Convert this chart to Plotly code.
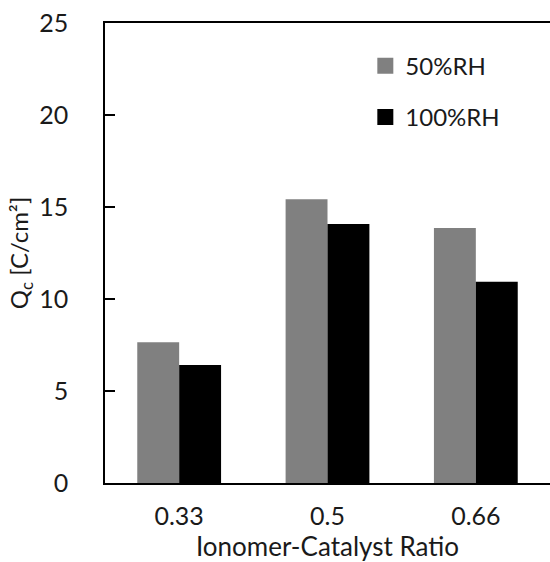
import plotly.graph_objects as go

categories = ["0.33", "0.5", "0.66"]
rh50 = [7.65, 15.42, 13.86]
rh100 = [6.41, 14.08, 10.94]
series_names = ["50%RH", "100%RH"]
colors = ["#808080", "#000000"]
y_ticks = [0, 5, 10, 15, 20, 25]

FONT = "Lato"
TXT = "#1a1a1a"

fig = go.Figure()
for vals, name, col, grp in zip([rh50, rh100], series_names, colors, ["a", "b"]):
    fig.add_trace(go.Bar(x=categories, y=vals, name=name,
                         marker=dict(color=col, line=dict(width=0)),
                         legendgroup=grp, showlegend=False))
    # legend entry with a larger square swatch
    fig.add_trace(go.Scatter(x=[None], y=[None], mode="markers", name=name,
                             marker=dict(symbol="square", size=17, color=col),
                             legendgroup=grp, showlegend=True))

fig.update_layout(
    width=550, height=562,
    margin=dict(l=105, r=0, t=23, b=79, autoexpand=False),
    paper_bgcolor="white", plot_bgcolor="white",
    font=dict(family=FONT, size=24, color=TXT),
    barmode="group", bargap=0.435, bargroupgap=0,
    showlegend=True,
    legend=dict(x=0.585, y=0.955, xanchor="left", yanchor="top",
                bgcolor="rgba(0,0,0,0)", tracegroupgap=17, itemsizing="trace",
                font=dict(family=FONT, size=24, color=TXT)),
    xaxis=dict(showline=True, linecolor="black", linewidth=1.5, mirror=True,
               ticks="", ticklabelstandoff=10, automargin=False,
               title=dict(text="Ionomer-Catalyst Ratio", standoff=0,
                          font=dict(family=FONT, size=26, color=TXT)),
               tickfont=dict(family=FONT, size=25, color=TXT)),
    yaxis=dict(range=[0, 25], tickvals=y_ticks, showgrid=False, zeroline=False,
               showline=True, linecolor="black", linewidth=1.5,
               ticks="inside", ticklen=10, tickwidth=1.5, tickcolor="black",
               ticklabelstandoff=30, automargin=False,
               title=dict(text="Q<sub>c</sub> [C/cm²]", standoff=4,
                          font=dict(family=FONT, size=24, color=TXT)),
               tickfont=dict(family=FONT, size=25, color=TXT)),
)

fig.write_html("out.html")
